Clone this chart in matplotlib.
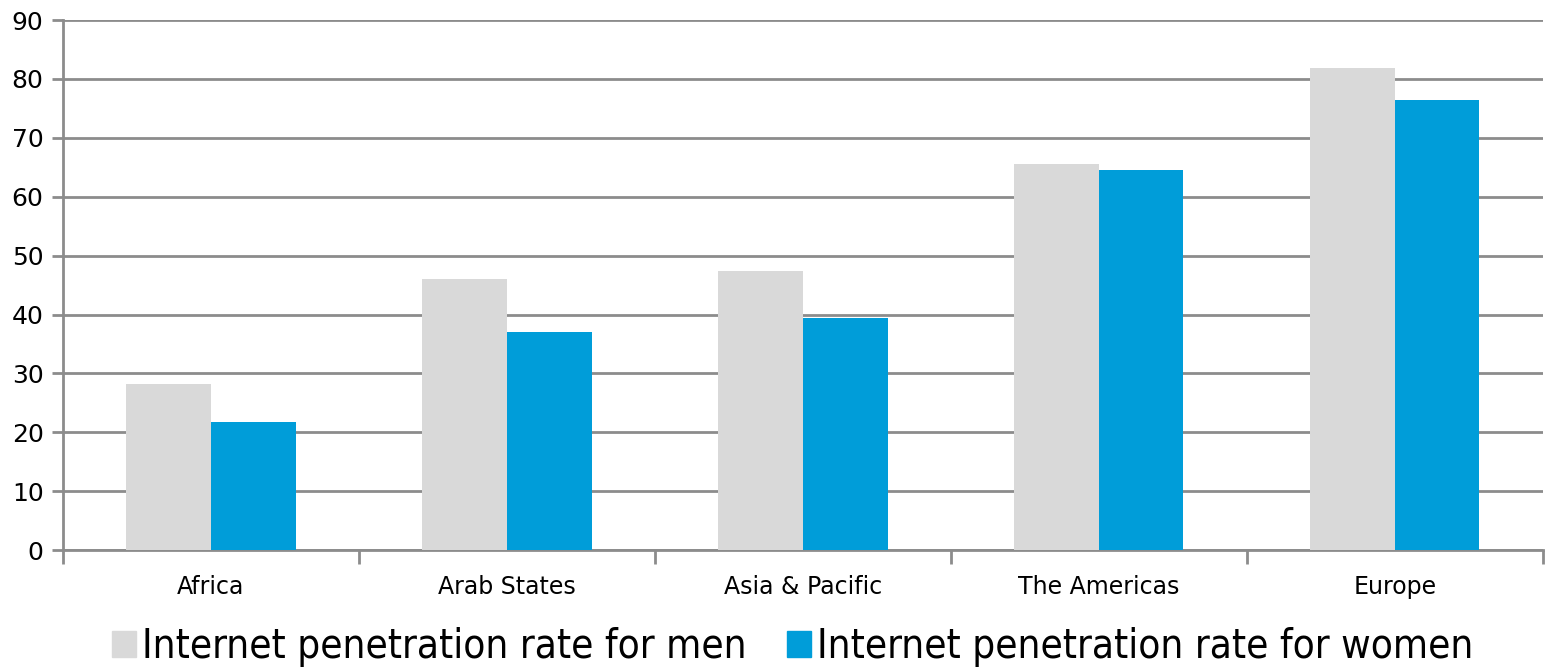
import matplotlib
matplotlib.use("Agg")
import matplotlib.pyplot as plt
from matplotlib.patches import Patch
from matplotlib.font_manager import FontProperties
import numpy as np

regions = ["Africa", "Arab States", "Asia & Pacific", "The Americas", "Europe"]
men = [28.2, 46.0, 47.4, 65.5, 81.8]
women = [21.7, 37.0, 39.4, 64.5, 76.4]
series_labels = ["Internet penetration rate for men", "Internet penetration rate for women"]
yticks = [0, 10, 20, 30, 40, 50, 60, 70, 80, 90]

men_color = "#d9d9d9"
women_color = "#009dd9"
grid_color = "#8c8c8c"

plt.rcParams["font.family"] = ["DejaVu Sans"]

fig = plt.figure(figsize=(15.48, 6.70), dpi=100)
ax = fig.add_axes([0.0407, 0.179, 0.956, 0.791])

x = np.arange(len(regions))
bw = 1 / 3.5
ax.bar(x - bw / 2, men, width=bw, color=men_color, zorder=3, linewidth=0)
ax.bar(x + bw / 2, women, width=bw, color=women_color, zorder=3, linewidth=0)

ax.set_xlim(-0.5, len(regions) - 0.5)
ax.set_ylim(0, 90)
ax.set_yticks(yticks)
ax.set_yticklabels([str(v) for v in yticks], fontsize=18)
ax.yaxis.grid(True, color=grid_color, linewidth=2, zorder=0)
ax.set_axisbelow(True)

# category labels centered, tick marks at category boundaries
ax.set_xticks(x)
ax.set_xticklabels(regions, fontsize=17)
ax.tick_params(axis="x", length=0, pad=18)
ax.set_xticks(np.arange(-0.5, len(regions) + 0.5, 1), minor=True)
ax.tick_params(axis="x", which="minor", length=10, width=2, color=grid_color)
ax.tick_params(axis="y", length=8, width=2, color=grid_color, pad=6)

for side in ["top", "right"]:
    ax.spines[side].set_visible(False)
for side in ["left", "bottom"]:
    ax.spines[side].set_color(grid_color)
    ax.spines[side].set_linewidth(2)

legend_font = FontProperties(family="DejaVu Sans", stretch="condensed", size=29)
handles = [Patch(color=men_color), Patch(color=women_color)]
fig.legend(handles, series_labels, loc="lower center", bbox_to_anchor=(0.512, -0.05),
           ncol=2, frameon=False, prop=legend_font, handlelength=0.6, handleheight=0.6,
           handletextpad=0.15, columnspacing=1.0)

fig.savefig("out.png", dpi=100)
